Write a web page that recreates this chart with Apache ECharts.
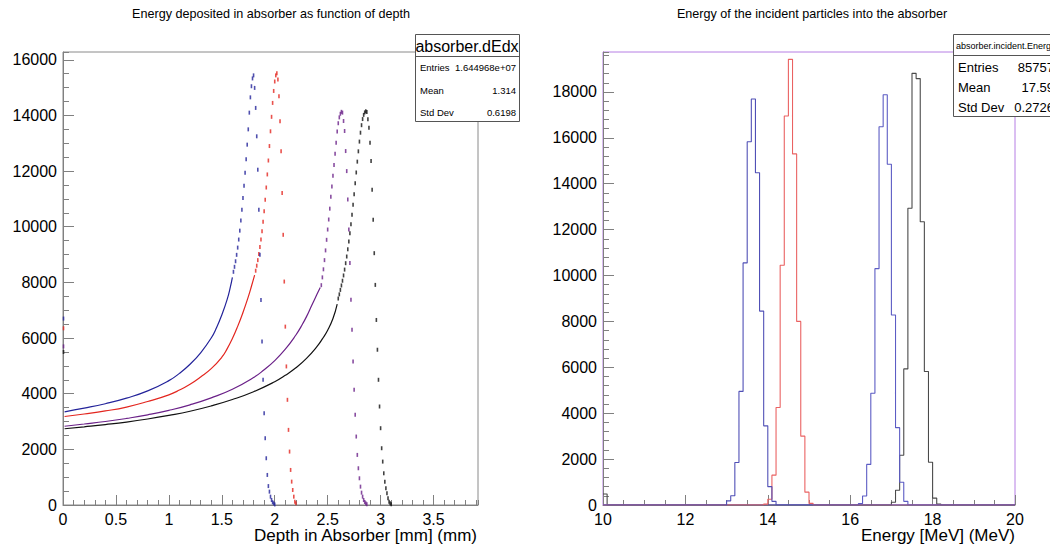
<!DOCTYPE html>
<html>
<head>
<meta charset="utf-8">
<script src="https://cdn.jsdelivr.net/npm/echarts@6/dist/echarts.min.js"></script>
<style>html,body{margin:0;padding:0;background:#fff}#c{width:1050px;height:545px}</style>
</head>
<body>
<div id="c"></div>
<script>
const FONT = '"Liberation Sans", Arial, Helvetica, sans-serif';

// ---------- Left panel: deposited energy vs depth ----------
const depthBin = 0.01;
const depthMax = 3.92;
const depthTicks = 0.5;
const edepMax = 16280;

const blueFirstBin = [0.005, 6700];
const redFirstBin = [0.005, 6350];
const purpleFirstBin = [0.005, 5700];
const blackFirstBin = [0.005, 5500];

const blueSmooth = [[0.015,3350],[0.2,3480],[0.4,3640],[0.6,3840],[0.8,4100],[1.0,4470],[1.1,4730],[1.2,5060],[1.3,5470],[1.4,6000],[1.45,6370],[1.5,6830],[1.55,7380],[1.58,7820],[1.6,8180]];
const bluePeakStart = 1.61;
const bluePeak = [8380,8560,8760,8990,9250,9540,9860,10220,10610,11030,11470,11940,12430,12950,13500,14100,14650,15050,15330,15440,
  14990,14270,13250,12050,10610,8990,7370,5880,4500,3300,2400,1680,1080,680,480,300,180,100,60,20];

const redSmooth = [[0.015,3180],[0.2,3270],[0.4,3380],[0.6,3520],[0.8,3720],[1.0,3960],[1.1,4130],[1.2,4340],[1.3,4600],[1.4,4900],[1.5,5310],[1.55,5610],[1.6,5980],[1.65,6420],[1.7,6920],[1.75,7480],[1.78,7860],[1.81,8260]];
const redPeakStart = 1.82;
const redPeak = [8420,8600,8800,9020,9270,9540,9840,10180,10560,10970,11410,11880,12380,12900,13430,13950,14450,14880,15220,15440,15520,
  15290,14690,13790,12710,11210,9710,8030,6410,4980,3780,2700,1920,1260,840,540,300,120,60];

const purpleSmooth = [[0.015,2830],[0.2,2910],[0.4,3000],[0.6,3110],[0.8,3240],[1.0,3400],[1.2,3600],[1.4,3850],[1.6,4160],[1.8,4580],[1.9,4860],[2.0,5190],[2.1,5600],[2.2,6110],[2.25,6420],[2.3,6770],[2.35,7180],[2.4,7580],[2.43,7820]];
const purplePeakStart = 2.44;
const purplePeak = [7900,8180,8470,8800,9150,9530,9900,10260,10650,11080,11450,11830,12220,12620,13020,13420,13720,13930,14060,14130,14100,
  13800,13440,12720,12000,10980,9900,8700,7380,6300,5160,4140,3240,2460,1800,1320,960,660,444,300,180,108,60,24];

const blackSmooth = [[0.015,2740],[0.2,2810],[0.4,2890],[0.6,2980],[0.8,3090],[1.0,3220],[1.2,3370],[1.4,3560],[1.6,3790],[1.8,4070],[2.0,4430],[2.1,4660],[2.2,4930],[2.3,5270],[2.4,5700],[2.45,5970],[2.5,6280],[2.55,6700],[2.59,7220]];
const blackPeakStart = 2.60;
const blackPeak = [7420,7570,7730,7890,8060,8250,8460,8690,8930,9190,9470,9770,10090,10430,10790,11170,11560,11950,12340,12710,13060,13380,13650,13870,14020,14110,14150,14120,
  13860,13560,13020,12360,11330,10250,9050,7910,6650,5580,4500,3540,2760,2040,1560,1140,840,600,420,240,120,60,25];

// ---------- Right panel: incident energy histograms ----------
const eMin = 10, eMax = 20, eBin = 0.1;
const countMax = 19740;
const blackLowStart = 10.0, blackLow = [480];
const blackHistStart = 17.0, blackHist = [120,640,2170,5930,12930,18810,18580,12340,5820,1860,300,40];
const blue2HistStart = 16.2, blue2Hist = [60,390,1770,4870,10300,16480,17880,14850,8280,3370,990,160];
const redHistStart = 13.9, redHist = [40,250,1300,4250,10450,16950,19420,15300,8000,3000,560,70];
const blue1HistStart = 13.0, blue1Hist = [180,400,1850,4950,10550,15830,17690,14480,8450,3450,800,160];

const leftStats = {title:'absorber.dEdx', rows:[['Entries','1.644968e+07'],['Mean','1.314'],['Std Dev','0.6198']]};
const rightStats = {title:'absorber.incident.Energy', rows:[['Entries','85757'],['Mean','17.59'],['Std Dev','0.2726']]};

// ---------- builders ----------
function peakPoints(start, vals, first) {
  const pts = [first];
  vals.forEach((v, i) => pts.push([+(start + i * depthBin).toFixed(3), v]));
  return pts;
}
const nBins = Math.round((eMax - eMin) / eBin);
function histPoints(parts) {
  const arr = new Array(nBins).fill(0);
  parts.forEach(([s, vals]) => {
    const k = Math.round((s - eMin) / eBin);
    vals.forEach((v, i) => { arr[k + i] = v; });
  });
  const pts = arr.map((v, i) => [+(eMin + i * eBin).toFixed(2), v]);
  pts.push([eMax, arr[nBins - 1]]);
  return pts;
}

const AX = '#808080';
function majorAxis(gi, min, max, interval, len, pos, showMax) {
  return {
    type:'value', gridIndex:gi, min, max, interval, position:pos,
    axisLine:{show:true, lineStyle:{color:AX, width:1}},
    axisTick:{show:true, inside:true, length:len, lineStyle:{color:AX}},
    axisLabel:{show:true, color:'#000', fontSize:16, fontFamily:FONT, margin:6, showMaxLabel:showMax, showMinLabel:true,
      formatter: v => String(v)},
    splitLine:{show:false}
  };
}
function minorAxis(gi, min, max, interval, len, pos) {
  return {
    type:'value', gridIndex:gi, min, max, interval, position:pos,
    axisLine:{show:false}, axisLabel:{show:false}, splitLine:{show:false},
    axisTick:{show:true, inside:true, length:len, lineStyle:{color:AX}}
  };
}

const leftColors = {blue:'#23239a', red:'#e3261f', purple:'#6a2088', black:'#111111'};
const rightColors = {blue1:'#5050b6', red:'#ea6262', blue2:'#5c5cc4', black:'#4a4a4a'};

function smoothSeries(data, color) {
  return {type:'line', xAxisIndex:0, yAxisIndex:0, data, symbol:'none', smooth:true,
    lineStyle:{color, width:1.2}, silent:true, animation:false, z:3};
}
function peakSeries(data, color) {
  return {type:'scatter', xAxisIndex:0, yAxisIndex:0, data, symbol:'rect', symbolSize:[1.6,4],
    itemStyle:{color}, silent:true, animation:false, z:4};
}
function histSeries(data, color) {
  return {type:'line', xAxisIndex:2, yAxisIndex:2, data, step:'end', symbol:'none',
    lineStyle:{color, width:1.1}, silent:true, animation:false, z:3};
}

function statsBox(b, x, y, w, h, sepY, titleSize, rowSize, rowYs, titleAlign) {
  const els = [];
  els.push({type:'rect', z:100, shape:{x:x+0.5, y:y+0.5, width:w, height:h}, style:{fill:'#fff', stroke:'#555', lineWidth:1}});
  els.push({type:'line', z:101, shape:{x1:x+0.5, y1:sepY+0.5, x2:x+w+0.5, y2:sepY+0.5}, style:{stroke:'#555', lineWidth:1}});
  els.push({type:'text', z:102, x: titleAlign === 'center' ? x + w/2 : x + 3, y:(y+sepY)/2 + 1,
    style:{text:b.title, fontSize:titleSize, fontFamily:FONT, fill:'#000', align:titleAlign, verticalAlign:'middle'}});
  b.rows.forEach((r, i) => {
    els.push({type:'text', z:102, x:x+5, y:rowYs[i], style:{text:r[0], fontSize:rowSize, fontFamily:FONT, fill:'#000', align:'left', verticalAlign:'middle'}});
    els.push({type:'text', z:102, x:x+w-3, y:rowYs[i], style:{text:r[1], fontSize:rowSize, fontFamily:FONT, fill:'#000', align:'right', verticalAlign:'middle'}});
  });
  return els;
}

const chart = echarts.init(document.getElementById('c'), null, {renderer:'svg', width:1050, height:545});
chart.setOption({
  animation:false,
  backgroundColor:'#fff',
  textStyle:{fontFamily:FONT},
  grid:[
    {left:63, top:52, width:415, height:453, show:true, borderColor:'#8a8a8a', borderWidth:1, backgroundColor:'transparent'},
    {left:603, top:52, width:412, height:453, show:true, borderColor:'#b67fe4', borderWidth:1, backgroundColor:'transparent'}
  ],
  xAxis:[
    majorAxis(0, 0, depthMax, depthTicks, 10, 'bottom', false),
    minorAxis(0, 0, depthMax, 0.1, 5, 'bottom'),
    majorAxis(1, eMin, eMax, 2, 10, 'bottom', true),
    minorAxis(1, eMin, eMax, 0.5, 5, 'bottom')
  ],
  yAxis:[
    majorAxis(0, 0, edepMax, 2000, 11, 'left', false),
    minorAxis(0, 0, edepMax, 500, 6, 'left'),
    majorAxis(1, 0, countMax, 2000, 11, 'left', false),
    minorAxis(1, 0, countMax, 400, 6, 'left')
  ],
  series:[
    smoothSeries(blackSmooth, leftColors.black),
    smoothSeries(purpleSmooth, leftColors.purple),
    smoothSeries(redSmooth, leftColors.red),
    smoothSeries(blueSmooth, leftColors.blue),
    peakSeries(peakPoints(blackPeakStart, blackPeak, blackFirstBin), leftColors.black),
    peakSeries(peakPoints(purplePeakStart, purplePeak, purpleFirstBin), leftColors.purple),
    peakSeries(peakPoints(redPeakStart, redPeak, redFirstBin), leftColors.red),
    peakSeries(peakPoints(bluePeakStart, bluePeak, blueFirstBin), leftColors.blue),
    histSeries(histPoints([[blackLowStart, blackLow],[blackHistStart, blackHist]]), rightColors.black),
    histSeries(histPoints([[blue2HistStart, blue2Hist]]), rightColors.blue2),
    histSeries(histPoints([[redHistStart, redHist]]), rightColors.red),
    histSeries(histPoints([[blue1HistStart, blue1Hist]]), rightColors.blue1)
  ],
  graphic:[
    {type:'text', z:50, x:271, y:14, style:{text:'Energy deposited in absorber as function of depth', fontSize:12.6, fontFamily:FONT, fill:'#000', align:'center', verticalAlign:'middle'}},
    {type:'text', z:50, x:812, y:14, style:{text:'Energy of the incident particles into the absorber', fontSize:12.6, fontFamily:FONT, fill:'#000', align:'center', verticalAlign:'middle'}},
    {type:'text', z:50, x:477, y:535, style:{text:'Depth in Absorber [mm] (mm)', fontSize:17, fontFamily:FONT, fill:'#000', align:'right', verticalAlign:'middle'}},
    {type:'text', z:50, x:1015, y:535, style:{text:'Energy [MeV] (MeV)', fontSize:17, fontFamily:FONT, fill:'#000', align:'right', verticalAlign:'middle'}},
    ...statsBox(leftStats, 415, 34, 104, 87, 56, 16, 9.5, [67, 90, 112], 'center'),
    ...statsBox(rightStats, 953, 34, 104, 82, 55, 9, 13, [67, 87, 107], 'left')
  ]
});
</script>
</body>
</html>
